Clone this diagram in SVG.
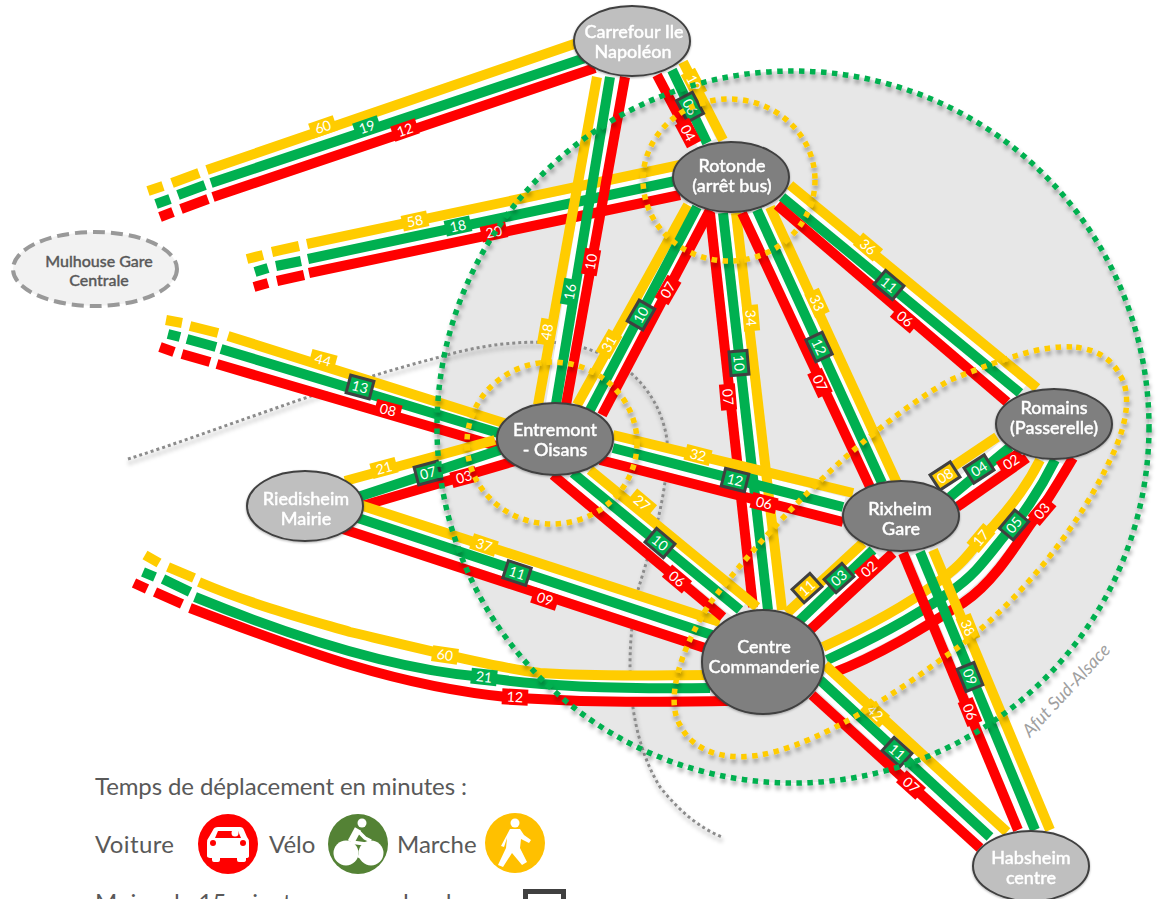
<svg xmlns="http://www.w3.org/2000/svg" width="1159" height="899" viewBox="0 0 1159 899">
<style>
text{font-family:"Lato","Noto Sans","Liberation Sans",sans-serif}
.y,.g,.r,.w{fill:none;stroke-width:10}
.y{stroke:#FFCC00}.g{stroke:#00B050}.r{stroke:#FF0000}
.w{stroke:#fff;stroke-width:20}
.ly{fill:#FFCC00}.lg{fill:#00B050}.lr{fill:#FF0000}
.by{fill:#FFCC00;stroke:#404040;stroke-width:3}.bg{fill:#00B050;stroke:#404040;stroke-width:3}
.lt{fill:#fff;font-size:14px;text-anchor:middle}
.dy{fill:none;stroke:#FFCC00;stroke-width:5.5;stroke-dasharray:5.5 5.5}
.dg{fill:none;stroke:#00B050;stroke-width:5.5;stroke-dasharray:5.5 5.5}
.nd{fill:#7F7F7F;stroke:#404040;stroke-width:2}
.nl{fill:#BFBFBF;stroke:#404040;stroke-width:2}
.nt{fill:#fff;stroke:#fff;stroke-width:.4;font-size:18px;font-weight:500;text-anchor:middle}
.lg-t{fill:#595959;font-size:24px}
</style>
<defs>
<filter id="sh" x="-20%" y="-20%" width="140%" height="140%"><feDropShadow dx="1" dy="4" stdDeviation="2" flood-color="#000" flood-opacity=".35"/></filter>
<filter id="sn" x="-20%" y="-20%" width="140%" height="140%"><feDropShadow dx="0" dy="1" stdDeviation="1" flood-color="#000" flood-opacity=".3"/></filter>
<path id="g1" d="M156,204L170,199M178,195L205,185M211,183L585,58"/>
<path id="g2" d="M255,272L268,268M276,266L301,261M308,259L680,180"/>
<path id="g3" d="M168,334L180,337M187,339L216,347M221,349L505,435"/>
<path id="g4" d="M358,497L500,450"/>
<path id="g5" d="M355,517L712,635"/>
<path id="g6" d="M143,572L155,577M163,579L190,592M195,597C300,640 400,670 483,677C540,687 620,689 710,688"/>
<path id="g7" d="M610,77L555,410"/>
<path id="g8" d="M672,70L707,143"/>
<path id="g9" d="M697,207L590,410"/>
<path id="g10" d="M723,213L768,610"/>
<path id="g11" d="M757,210L882,483"/>
<path id="g12" d="M782,197L1020,393"/>
<path id="g13" d="M613,448L843,507"/>
<path id="g14" d="M573,473L740,610"/>
<path id="g15" d="M873,550L797,623"/>
<path id="g16" d="M1010,447L950,497"/>
<path id="g17" d="M1055,460C1040,490 1020,520 1005,535C985,560 975,575 950,592C910,620 870,640 827,660"/>
<path id="g18" d="M920,552L1035,830"/>
<path id="g19" d="M820,680L990,837"/>
</defs>

<circle id="zone" cx="793" cy="427" r="356" fill="#E7E7E7"/>
<path id="limite" d="M128,459C220,430 330,385 440,357C480,345 520,340 560,343C620,350 660,390 667,440C670,490 650,550 638,590C625,650 625,730 660,787C680,812 700,828 722,837" fill="none" stroke="#8C8C8C" stroke-width="3" stroke-dasharray="3 3" filter="url(#sh)"/>

<g id="connectors">
<g id="halos">
<use href="#g1" class="w"/><use href="#g2" class="w"/><use href="#g3" class="w"/><use href="#g4" class="w"/><use href="#g5" class="w"/><use href="#g6" class="w"/><use href="#g7" class="w"/><use href="#g8" class="w"/><use href="#g9" class="w"/><use href="#g10" class="w"/><use href="#g11" class="w"/><use href="#g12" class="w"/><use href="#g13" class="w"/><use href="#g14" class="w"/><use href="#g15" class="w"/><use href="#g16" class="w"/><use href="#g17" class="w"/><use href="#g18" class="w"/><use href="#g19" class="w"/>
</g>
<path class="y" d="M148,191L163,186M172,183L199,173M207,170L580,42"/><use href="#g1" class="g"/><path class="r" d="M160,217L173,212M181,209L208,199M213,197L595,68"/>
<path class="y" d="M247,259L263,255M272,252L299,246M307,244L680,165"/><use href="#g2" class="g"/><path class="r" d="M254,287L268,283M277,281L304,275M309,273L680,195"/>
<path class="y" d="M166,320L182,323M190,326L218,333M228,336L510,425"/><use href="#g3" class="g"/><path class="r" d="M160,347L174,352M182,354L210,362M217,364L500,447"/>
<path class="y" d="M345,481L495,440"/><use href="#g4" class="g"/><path class="r" d="M362,506L515,461"/>
<path class="y" d="M360,505L720,622"/><use href="#g5" class="g"/><path class="r" d="M340,528L705,648"/>
<path class="y" d="M145,555L159,563M168,567L194,578M199,582C260,608 320,623 350,632C447,655 500,668 540,673C600,677 660,675 710,675"/><use href="#g6" class="g"/><path class="r" d="M134,583L147,589M155,592L182,604M190,608C300,650 400,688 517,698C600,703 660,702 730,701"/>
<path class="y" d="M1040,460C1025,490 1000,520 980,540C965,560 955,570 935,584C900,610 860,630 823,647"/><use href="#g17" class="g"/><path class="r" d="M1073,458C1060,480 1045,505 1030,525C1010,555 990,585 963,603C920,630 880,655 833,673"/>
<path class="y" d="M597,77L538,405"/><use href="#g7" class="g"/><path class="r" d="M625,77L566,405"/>
<path class="y" d="M683,62L723,140"/><use href="#g8" class="g"/><path class="r" d="M657,75L693,143"/>
<path class="y" d="M688,205L577,405"/><use href="#g9" class="g"/><path class="r" d="M710,210L602,415"/>
<path class="y" d="M736,213L782,610"/><use href="#g10" class="g"/><path class="r" d="M710,213L753,607"/>
<path class="y" d="M770,207L897,483"/><use href="#g11" class="g"/><path class="r" d="M742,213L870,487"/>
<path class="y" d="M790,185L1037,388"/><use href="#g12" class="g"/><path class="r" d="M777,205L1007,402"/>
<path class="y" d="M613,435L853,493"/><use href="#g13" class="g"/><path class="r" d="M600,460L843,522"/>
<path class="y" d="M590,470L757,607"/><use href="#g14" class="g"/><path class="r" d="M553,475L723,617"/>
<path class="y" d="M863,543L787,613"/><use href="#g15" class="g"/><path class="r" d="M893,553L810,630"/>
<path class="y" d="M997,437L933,480"/><use href="#g16" class="g"/><path class="r" d="M1027,458L957,507"/>
<path class="y" d="M933,550L1050,830"/><use href="#g18" class="g"/><path class="r" d="M903,553L1018,830"/>
<path class="y" d="M825,665L1007,832"/><use href="#g19" class="g"/><path class="r" d="M812,695L980,848"/>
</g>

<g id="labels">
<g transform="translate(323,127) rotate(-19)"><rect class="ly" x="-13" y="-8" width="26" height="16"/><text class="lt" y="5">60</text></g>
<g transform="translate(367,127) rotate(-19)"><rect class="lg" x="-13" y="-8" width="26" height="16"/><text class="lt" y="5">19</text></g>
<g transform="translate(405,130) rotate(-19)"><rect class="lr" x="-13" y="-8" width="26" height="16"/><text class="lt" y="5">12</text></g>
<g transform="translate(415,221) rotate(-12)"><rect class="ly" x="-13" y="-8" width="26" height="16"/><text class="lt" y="5">58</text></g>
<g transform="translate(458,226) rotate(-12)"><rect class="lg" x="-13" y="-8" width="26" height="16"/><text class="lt" y="5">18</text></g>
<g transform="translate(494,232) rotate(-12)"><rect class="lr" x="-13" y="-8" width="26" height="16"/><text class="lt" y="5">20</text></g>
<g transform="translate(323,360) rotate(15)"><rect class="ly" x="-13" y="-8" width="26" height="16"/><text class="lt" y="5">44</text></g>
<g transform="translate(360,387) rotate(15)"><rect class="bg" x="-12" y="-9" width="24" height="18"/><text class="lt" y="5">13</text></g>
<g transform="translate(388,410) rotate(15)"><rect class="lr" x="-13" y="-8" width="26" height="16"/><text class="lt" y="5">08</text></g>
<g transform="translate(384,468) rotate(-15)"><rect class="ly" x="-13" y="-8" width="26" height="16"/><text class="lt" y="5">21</text></g>
<g transform="translate(428,473) rotate(-15)"><rect class="bg" x="-12" y="-9" width="24" height="18"/><text class="lt" y="5">07</text></g>
<g transform="translate(464,477) rotate(-15)"><rect class="lr" x="-13" y="-8" width="26" height="16"/><text class="lt" y="5">03</text></g>
<g transform="translate(484,545) rotate(18)"><rect class="ly" x="-13" y="-8" width="26" height="16"/><text class="lt" y="5">37</text></g>
<g transform="translate(517,573) rotate(18)"><rect class="bg" x="-12" y="-9" width="24" height="18"/><text class="lt" y="5">11</text></g>
<g transform="translate(545,599) rotate(18)"><rect class="lr" x="-13" y="-8" width="26" height="16"/><text class="lt" y="5">09</text></g>
<g transform="translate(445,655) rotate(8)"><rect class="ly" x="-13" y="-8" width="26" height="16"/><text class="lt" y="5">60</text></g>
<g transform="translate(484,677) rotate(6)"><rect class="lg" x="-13" y="-8" width="26" height="16"/><text class="lt" y="5">21</text></g>
<g transform="translate(515,697) rotate(3)"><rect class="lr" x="-13" y="-8" width="26" height="16"/><text class="lt" y="5">12</text></g>
<g transform="translate(547,332) rotate(-80)"><rect class="ly" x="-13" y="-8" width="26" height="16"/><text class="lt" y="5">48</text></g>
<g transform="translate(570,292) rotate(-80)"><rect class="lg" x="-13" y="-8" width="26" height="16"/><text class="lt" y="5">16</text></g>
<g transform="translate(591,262) rotate(-80)"><rect class="lr" x="-13" y="-8" width="26" height="16"/><text class="lt" y="5">10</text></g>
<g transform="translate(694,83) rotate(62)"><rect class="ly" x="-13" y="-8" width="26" height="16"/><text class="lt" y="5">19</text></g>
<g transform="translate(690,107) rotate(62)"><rect class="bg" x="-12" y="-9" width="24" height="18"/><text class="lt" y="5">06</text></g>
<g transform="translate(688,133) rotate(62)"><rect class="lr" x="-13" y="-8" width="26" height="16"/><text class="lt" y="5">04</text></g>
<g transform="translate(609,344) rotate(-60)"><rect class="ly" x="-13" y="-8" width="26" height="16"/><text class="lt" y="5">31</text></g>
<g transform="translate(641,315) rotate(-60)"><rect class="bg" x="-12" y="-9" width="24" height="18"/><text class="lt" y="5">10</text></g>
<g transform="translate(668,290) rotate(-60)"><rect class="lr" x="-13" y="-8" width="26" height="16"/><text class="lt" y="5">07</text></g>
<g transform="translate(751,318) rotate(85)"><rect class="ly" x="-13" y="-8" width="26" height="16"/><text class="lt" y="5">34</text></g>
<g transform="translate(739,363) rotate(85)"><rect class="bg" x="-12" y="-9" width="24" height="18"/><text class="lt" y="5">10</text></g>
<g transform="translate(728,397) rotate(85)"><rect class="lr" x="-13" y="-8" width="26" height="16"/><text class="lt" y="5">07</text></g>
<g transform="translate(817,303) rotate(65)"><rect class="ly" x="-13" y="-8" width="26" height="16"/><text class="lt" y="5">33</text></g>
<g transform="translate(819,347) rotate(65)"><rect class="bg" x="-12" y="-9" width="24" height="18"/><text class="lt" y="5">12</text></g>
<g transform="translate(820,383) rotate(65)"><rect class="lr" x="-13" y="-8" width="26" height="16"/><text class="lt" y="5">07</text></g>
<g transform="translate(868,247) rotate(40)"><rect class="ly" x="-13" y="-8" width="26" height="16"/><text class="lt" y="5">36</text></g>
<g transform="translate(889,285) rotate(40)"><rect class="bg" x="-12" y="-9" width="24" height="18"/><text class="lt" y="5">11</text></g>
<g transform="translate(905,319) rotate(40)"><rect class="lr" x="-13" y="-8" width="26" height="16"/><text class="lt" y="5">06</text></g>
<g transform="translate(698,455) rotate(14)"><rect class="ly" x="-13" y="-8" width="26" height="16"/><text class="lt" y="5">32</text></g>
<g transform="translate(735,480) rotate(14)"><rect class="bg" x="-12" y="-9" width="24" height="18"/><text class="lt" y="5">12</text></g>
<g transform="translate(764,503) rotate(14)"><rect class="lr" x="-13" y="-8" width="26" height="16"/><text class="lt" y="5">06</text></g>
<g transform="translate(642,503) rotate(40)"><rect class="ly" x="-13" y="-8" width="26" height="16"/><text class="lt" y="5">27</text></g>
<g transform="translate(660,543) rotate(40)"><rect class="bg" x="-12" y="-9" width="24" height="18"/><text class="lt" y="5">10</text></g>
<g transform="translate(677,579) rotate(40)"><rect class="lr" x="-13" y="-8" width="26" height="16"/><text class="lt" y="5">06</text></g>
<g transform="translate(807,588) rotate(-42)"><rect class="by" x="-12" y="-9" width="24" height="18"/><text class="lt" y="5">11</text></g>
<g transform="translate(839,578) rotate(-42)"><rect class="bg" x="-12" y="-9" width="24" height="18"/><text class="lt" y="5">03</text></g>
<g transform="translate(869,569) rotate(-42)"><rect class="lr" x="-13" y="-8" width="26" height="16"/><text class="lt" y="5">02</text></g>
<g transform="translate(945,476) rotate(-33)"><rect class="by" x="-12" y="-9" width="24" height="18"/><text class="lt" y="5">08</text></g>
<g transform="translate(979,469) rotate(-33)"><rect class="bg" x="-12" y="-9" width="24" height="18"/><text class="lt" y="5">04</text></g>
<g transform="translate(1011,462) rotate(-33)"><rect class="lr" x="-13" y="-8" width="26" height="16"/><text class="lt" y="5">02</text></g>
<g transform="translate(981,538) rotate(-50)"><rect class="ly" x="-13" y="-8" width="26" height="16"/><text class="lt" y="5">17</text></g>
<g transform="translate(1014,525) rotate(-50)"><rect class="bg" x="-12" y="-9" width="24" height="18"/><text class="lt" y="5">05</text></g>
<g transform="translate(1042,511) rotate(-50)"><rect class="lr" x="-13" y="-8" width="26" height="16"/><text class="lt" y="5">03</text></g>
<g transform="translate(968,628) rotate(68)"><rect class="ly" x="-13" y="-8" width="26" height="16"/><text class="lt" y="5">38</text></g>
<g transform="translate(970,677) rotate(68)"><rect class="bg" x="-12" y="-9" width="24" height="18"/><text class="lt" y="5">09</text></g>
<g transform="translate(970,712) rotate(68)"><rect class="lr" x="-13" y="-8" width="26" height="16"/><text class="lt" y="5">06</text></g>
<g transform="translate(875,713) rotate(42)"><rect class="ly" x="-13" y="-8" width="26" height="16"/><text class="lt" y="5">42</text></g>
<g transform="translate(897,752) rotate(42)"><rect class="bg" x="-12" y="-9" width="24" height="18"/><text class="lt" y="5">11</text></g>
<g transform="translate(911,785) rotate(42)"><rect class="lr" x="-13" y="-8" width="26" height="16"/><text class="lt" y="5">07</text></g>
</g>

<g id="anneaux" filter="url(#sh)">
<circle class="dg" cx="793" cy="427" r="356"/>
<ellipse class="dy" cx="729" cy="180" rx="86" ry="81"/>
<ellipse class="dy" cx="552" cy="443" rx="85" ry="81"/>
<path class="dy" d="M1072,347C1040,345 1000,360 950,380C880,420 790,500 710,603C680,650 665,700 680,725C695,755 730,760 760,755C800,748 860,720 943,658C1000,620 1070,545 1110,460C1130,420 1130,390 1120,375C1110,355 1090,348 1072,347Z"/>
</g>
<text transform="translate(1030,738) rotate(-47)" fill="#A0A0A0" font-size="18" font-style="italic">Afut Sud-Alsace</text>

<g id="n-carrefour" filter="url(#sn)"><ellipse class="nl" cx="632" cy="41" rx="58" ry="35"/><text class="nt" x="634" y="38">Carrefour Ile</text><text class="nt" x="633" y="58">Napoléon</text></g>
<g id="n-rotonde" filter="url(#sn)"><ellipse class="nd" cx="731" cy="177" rx="58" ry="35"/><text class="nt" x="732" y="172">Rotonde</text><text class="nt" x="732" y="192">(arrêt bus)</text></g>
<g id="n-entremont" filter="url(#sn)"><ellipse class="nd" cx="555" cy="439" rx="58" ry="36"/><text class="nt" x="555" y="436">Entremont</text><text class="nt" x="555" y="456">- Oisans</text></g>
<g id="n-rixheim" filter="url(#sn)"><ellipse class="nd" cx="901" cy="516" rx="58" ry="35"/><text class="nt" x="900" y="515">Rixheim</text><text class="nt" x="901" y="535">Gare</text></g>
<g id="n-romains" filter="url(#sn)"><ellipse class="nd" cx="1054" cy="424" rx="58" ry="35"/><text class="nt" x="1054" y="414">Romains</text><text class="nt" x="1054" y="434">(Passerelle)</text></g>
<g id="n-riedisheim" filter="url(#sn)"><ellipse class="nl" cx="305" cy="506" rx="58" ry="35"/><text class="nt" x="306" y="505">Riedisheim</text><text class="nt" x="306" y="525">Mairie</text></g>
<g id="n-centre" filter="url(#sn)"><ellipse class="nd" cx="763" cy="662" rx="61" ry="52"/><text class="nt" x="764" y="653">Centre</text><text class="nt" x="764" y="673">Commanderie</text></g>
<g id="n-habsheim" filter="url(#sn)"><ellipse class="nl" cx="1031" cy="866" rx="58" ry="35"/><text class="nt" x="1031" y="864">Habsheim</text><text class="nt" x="1031" y="884">centre</text></g>
<g id="n-mulhouse"><ellipse cx="95" cy="269" rx="82" ry="37" fill="#F2F2F2" stroke="#999" stroke-width="4" stroke-dasharray="12 6"/><text x="99" y="267" fill="#595959" stroke="#595959" stroke-width=".35" font-size="16" font-weight="500" text-anchor="middle">Mulhouse Gare</text><text x="99" y="286" fill="#595959" stroke="#595959" stroke-width=".35" font-size="16" font-weight="500" text-anchor="middle">Centrale</text></g>

<g id="legende">
<text class="lg-t" x="95" y="795" textLength="372">Temps de déplacement en minutes :</text>
<text class="lg-t" x="95" y="853" textLength="79">Voiture</text>
<circle cx="228" cy="844" r="30" fill="#FF0000"/>
<path d="M218,827H240Q243,827 244,830L247,837Q249,839 249,843V856Q249,858 246,858V860Q246,862 243,862H239Q237,862 237,860V858H220V860Q220,862 218,862H214Q212,862 212,860V858Q207,858 207,856V843Q207,839 209,837L213,830Q214,827 218,827Z" fill="#fff"/>
<path d="M215,838L218,831H238L241,838Z" fill="#FF0000"/>
<circle cx="213" cy="843" r="3" fill="#FF0000"/><circle cx="243" cy="843" r="3" fill="#FF0000"/><circle cx="235" cy="833" r="3.5" fill="#fff"/>
<text class="lg-t" x="269" y="853">Vélo</text>
<circle cx="358" cy="844" r="30" fill="#548235"/>
<circle cx="362" cy="823" r="4.5" fill="#fff"/><circle cx="346" cy="853" r="12.5" fill="#fff"/><circle cx="371" cy="853" r="12.5" fill="#fff"/>
<path d="M358,829L351,842" fill="none" stroke="#fff" stroke-width="7"/>
<path d="M359,832L365,838L371,841M351,842L365,844L359,858" fill="none" stroke="#fff" stroke-width="3.5"/>
<text class="lg-t" x="397" y="853">Marche</text>
<circle cx="515" cy="843" r="30" fill="#FFC000"/>
<circle cx="515" cy="823" r="4.5" fill="#fff"/>
<path d="M510,829H520L524,835L531,840L529,843L521,839L520,848L527,862L522,865L512,853L503,867L498,865L506,848L507,838L504,847L501,846Z" fill="#fff"/>
<text class="lg-t" y="911"><tspan x="95">Moins de 15 min</tspan> <tspan x="283">tous</tspan> <tspan x="362">modes de</tspan></text>
<rect x="525.5" y="891.5" width="38" height="20" fill="none" stroke="#404040" stroke-width="5"/>
</g>
</svg>
